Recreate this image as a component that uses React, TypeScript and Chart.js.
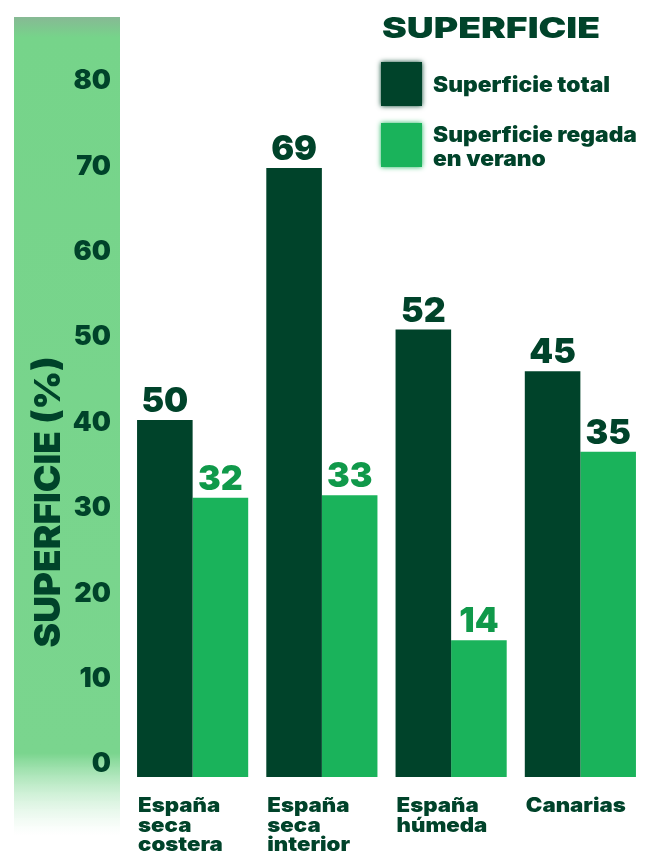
import React, { useEffect, useRef } from 'react';
import { Chart, registerables } from 'chart.js';

Chart.register(...registerables);

const categories: string[][] = [
  ['España', 'seca', 'costera'],
  ['España', 'seca', 'interior'],
  ['España', 'húmeda'],
  ['Canarias'],
];
const totalValues = [40.3, 69.8, 50.9, 46.0];
const irrigatedValues = [31.2, 31.5, 14.5, 36.6];
const totalLabels = ['50', '69', '52', '45'];
const irrigatedLabels = ['32', '33', '14', '35'];
const yTicks = [0, 10, 20, 30, 40, 50, 60, 70, 80];
const seriesNames: string[][] = [['Superficie total'], ['Superficie regada', 'en verano']];
const legendTitle = 'SUPERFICIE';
const axisTitle = 'SUPERFICIE (%)';

const DARK = '#00432a';
const LIGHT = '#1ab35b';
const LABEL_GREEN = '#10994a';
const FONT = 'Inter, "Open Sans", sans-serif';

function stretchedText(ctx: any, text: string, x: number, y: number, sx: number) {
  ctx.save();
  ctx.translate(x, y);
  ctx.scale(sx, 1);
  ctx.fillText(text, 0, 0);
  ctx.restore();
}

export default function App() {
  const ref = useRef<HTMLCanvasElement | null>(null);

  useEffect(() => {
    if (!ref.current) return;

    const decor = {
      id: 'decor',
      beforeDraw(chart: any) {
        const ctx = chart.ctx;
        ctx.save();
        const g = ctx.createLinearGradient(0, 17, 0, 835);
        g.addColorStop(0, 'rgba(135,185,148,1)');
        g.addColorStop(0.025, 'rgba(118,212,138,1)');
        g.addColorStop(0.9, 'rgba(122,213,142,1)');
        g.addColorStop(1, 'rgba(200,240,210,0)');
        ctx.fillStyle = g;
        ctx.fillRect(14, 17, 106, 818);
        ctx.restore();
      },
      afterDatasetsDraw(chart: any) {
        const ctx = chart.ctx;
        ctx.save();
        ctx.textAlign = 'center';
        ctx.textBaseline = 'alphabetic';
        ctx.font = `900 34px ${FONT}`;
        const m0 = chart.getDatasetMeta(0);
        const m1 = chart.getDatasetMeta(1);
        m0.data.forEach((bar: any, i: number) => {
          ctx.fillStyle = DARK;
          ctx.fillText(totalLabels[i], bar.x, bar.y - 8);
        });
        m1.data.forEach((bar: any, i: number) => {
          ctx.fillStyle = i === 3 ? DARK : LABEL_GREEN;
          ctx.fillText(irrigatedLabels[i], bar.x, bar.y - 8);
        });
        // category labels, left aligned on the group's first bar
        ctx.textAlign = 'left';
        ctx.fillStyle = DARK;
        ctx.font = `900 20px ${FONT}`;
        const catStretch = 100 / ctx.measureText('Canarias').width;
        m0.data.forEach((bar: any, i: number) => {
          const left = bar.x - bar.width / 2;
          categories[i].forEach((line, k) => {
            stretchedText(ctx, line, left + 1, 812 + k * 19.5, catStretch);
          });
        });
        ctx.restore();
      },
      afterDraw(chart: any) {
        const ctx = chart.ctx;
        ctx.save();
        // axis title
        ctx.translate(60, 502);
        ctx.rotate(-Math.PI / 2);
        ctx.font = `900 36px ${FONT}`;
        const w = ctx.measureText(axisTitle).width;
        ctx.scale(291 / w, 1);
        ctx.textAlign = 'center';
        ctx.textBaseline = 'alphabetic';
        ctx.fillStyle = DARK;
        ctx.fillText(axisTitle, 0, 0);
        ctx.restore();

        ctx.save();
        ctx.fillStyle = DARK;
        ctx.textAlign = 'left';
        ctx.textBaseline = 'alphabetic';
        ctx.font = `900 29px ${FONT}`;
        const tw = ctx.measureText(legendTitle).width;
        stretchedText(ctx, legendTitle, 382, 38, 218 / tw);
        // legend boxes
        const colors = [DARK, LIGHT];
        const boxY = [62, 123];
        const textY = [92, 142];
        ctx.font = `900 21px ${FONT}`;
        const legStretch = 177 / ctx.measureText(seriesNames[0][0]).width;
        colors.forEach((c, i) => {
          ctx.save();
          ctx.shadowColor = c;
          ctx.shadowBlur = 5;
          ctx.fillStyle = c;
          ctx.fillRect(381, boxY[i], 41, 44);
          ctx.restore();
          ctx.fillStyle = DARK;
          seriesNames[i].forEach((line, k) => {
            stretchedText(ctx, line, 433, textY[i] + k * 24, legStretch);
          });
        });
        ctx.restore();
      },
    };

    const chart = new Chart(ref.current, {
      type: 'bar',
      data: {
        labels: categories.map((c) => c.join(' ')),
        datasets: [
          {
            label: seriesNames[0].join(' '),
            data: totalValues,
            backgroundColor: DARK,
            base: -1.5,
            barPercentage: 1,
            categoryPercentage: 0.86,
          } as any,
          {
            label: seriesNames[1].join(' '),
            data: irrigatedValues,
            backgroundColor: LIGHT,
            base: -1.5,
            barPercentage: 1,
            categoryPercentage: 0.86,
          } as any,
        ],
      },
      options: {
        responsive: false,
        animation: false,
        devicePixelRatio: 1,
        layout: { padding: { top: 81, right: 7, bottom: 76, left: 0 } },
        plugins: {
          legend: { display: false },
          title: { display: false },
          tooltip: { enabled: false },
        },
        scales: {
          x: {
            display: false,
            grid: { display: false },
          },
          y: {
            min: -1.5,
            max: 80,
            afterFit: (scale: any) => {
              scale.width = 128;
            },
            afterBuildTicks: (scale: any) => {
              scale.ticks = yTicks.map((v) => ({ value: v }));
            },
            grid: { display: false, drawTicks: false },
            border: { display: false },
            ticks: {
              padding: 17,
              color: DARK,
              font: { family: FONT, size: 27, weight: '900' as any },
            },
          },
        },
      },
      plugins: [decor],
    });

    return () => chart.destroy();
  }, []);

  return (
    <div style={{ position: 'fixed', left: 0, top: 0, width: 652, height: 853, background: '#ffffff' }}>
      <canvas ref={ref} width={652} height={853} />
    </div>
  );
}
